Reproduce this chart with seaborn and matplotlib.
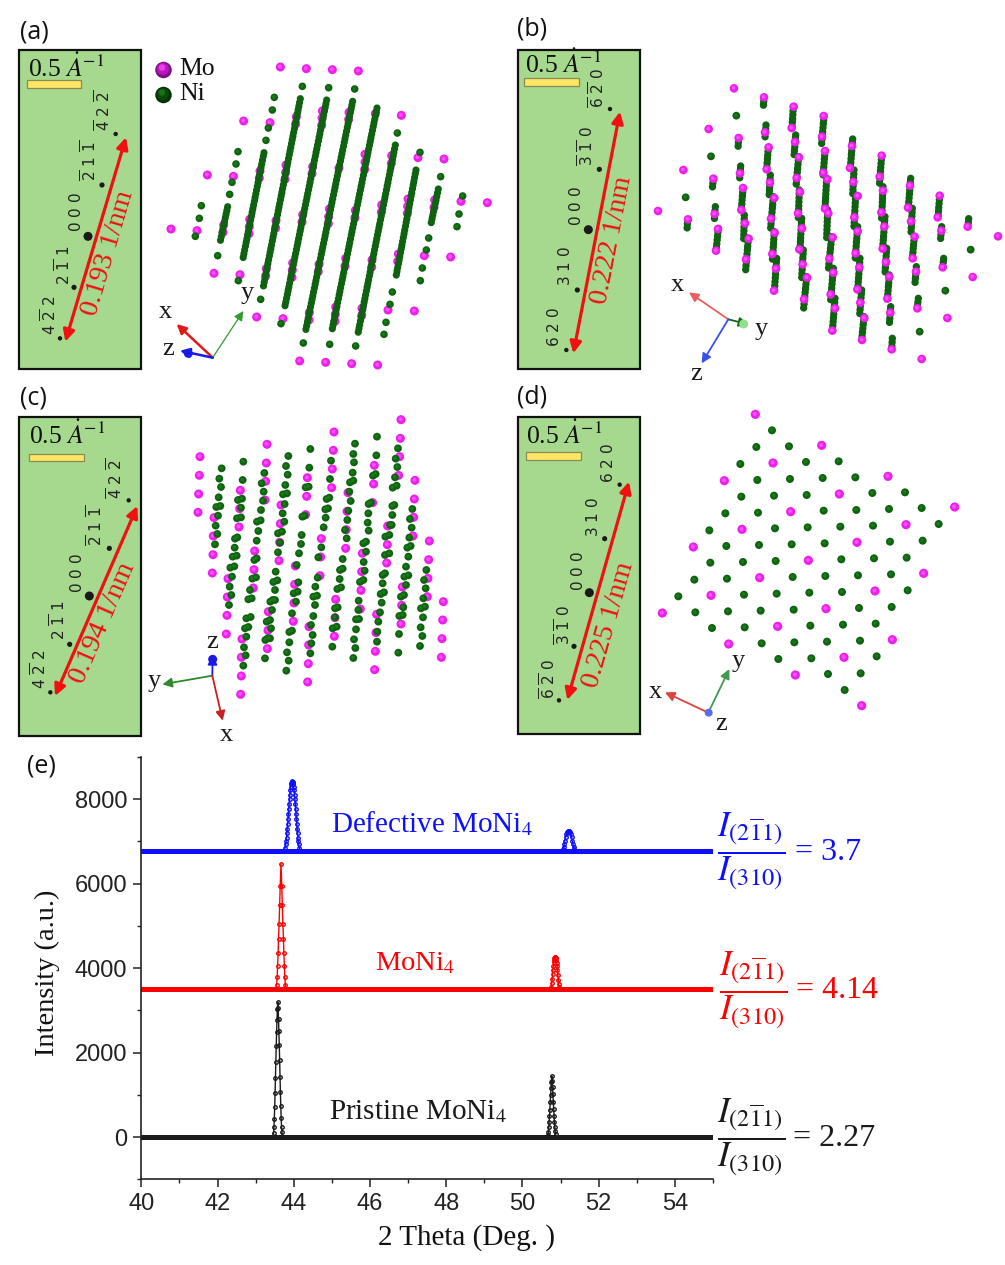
import matplotlib
matplotlib.use("Agg")
import matplotlib.pyplot as plt
from matplotlib.patches import Rectangle, FancyArrowPatch
from matplotlib.ticker import MultipleLocator
import pandas as pd
import seaborn as sns

# ---------- values ----------
# atom positions of panels a-d, in crop pixels (3x) relative to each panel's origin
origin_a = (0, 10); origin_b = (505, 10); origin_c = (0, 380); origin_d = (505, 380)

a_mo = [(841,171),(919,176),(997,179),(1075,183),(731,333),(810,338),(889,320),(887,342),(967,303),(966,324),(965,346),
        (1047,307),(1046,328),(1126,311),(1204,316),(622,495),(700,499),(780,483),(778,504),(858,465),(857,487),(855,508),
        (938,470),(936,491),(1017,474),(1095,433),(1095,456),(1094,478),(1175,437),(1174,460),(1254,443),(1332,447),
        (513,657),(591,662),(671,645),(669,667),(749,628),(748,650),(747,671),(828,632),(827,654),(908,614),(906,636),
        (988,597),(986,620),(985,641),(1066,601),(1065,623),(1145,585),(1144,606),(1224,567),(1223,589),(1222,610),
        (1304,570),(1302,592),(1383,574),(1462,578),(642,790),(720,794),(799,776),(797,798),(878,759),(877,780),(876,802),
        (957,763),(955,785),(1037,745),(1035,768),(1116,750),(1115,771),(1195,732),(1193,754),(1273,737),(1352,741),
        (770,921),(849,926),(928,908),(927,930),(1007,891),(1006,913),(1005,934),(1086,895),(1085,917),(1164,900),(1243,903),
        (899,1053),(977,1057),(1055,1061),(1133,1065)]
a_ni = [(604,587),(598,625),(586,679),(714,425),(708,462),(696,517),(689,553),(653,737),(823,262),(817,300),(805,354),
        (798,391),(715,812),(907,229),(782,868),(986,233),(843,941),(1064,237),(910,999),(989,1003),(1192,369),(1067,1008),
        (1260,427),(1177,846),(1170,883),(1158,937),(1152,973),(1322,500),(1286,684),(1279,720),(1267,774),(1261,812),
        (1388,558),(1377,612),(1371,650)]
a_chains = [((683,590),(660,698)),((792,428),(728,750)),((901,266),(790,830)),((980,270),(855,888)),((1058,274),(917,962)),
            ((1131,294),(995,966)),((1186,405),(1074,970)),((1248,480),(1188,800)),((1315,537),(1292,646))]

b_mo = [(687,235),(611,357),(535,480),(459,603),(777,262),(866,290),(860,354),(956,318),(951,380),(1041,408),(1035,474),
        (1130,437),(1124,500),(1215,527),(1209,593),(1304,557),(1298,622),(1388,650),(780,367),(701,384),(870,396),(791,412),
        (785,478),(705,490),(625,506),(960,423),(955,488),(882,442),(875,504),(1045,516),(967,508),(960,596),(795,518),(714,534),
        (709,600),(629,612),(549,628),(1134,542),(1129,607),(1058,558),(1048,622),(885,546),(879,610),(808,564),(798,626),
        (970,610),(720,640),(639,657),(633,722),(731,686),(723,748),(891,655),(883,718),(809,668),(802,732),(813,776),(807,842),
        (893,763),(906,803),(897,868),(983,682),(973,746),(985,788),(977,853),(990,895),(982,962),(1058,664),(1052,730),
        (1063,772),(1057,838),(1066,878),(1078,924),(1071,990),(1138,650),(1133,716),(1143,757),(1153,800),(1147,866),
        (1156,908),(1160,1018),(1218,634),(1229,680),(1223,745),(1233,785),(1237,895),(1309,662),(1313,772),
        (1479,679),(1403,801),(1327,924),(1250,1047)]
b_ni = [(694,317),(618,439),(542,562),(1397,719),(1321,842),(1244,965)]
b_chains = [((777,262),(775,290)),((865,290),(861,355)),((957,318),(949,410)),((1043,387),(1036,474)),((1130,437),(1123,527)),
            ((1217,505),(1210,593)),((1304,557),(1299,622)),((1391,626),(1389,650)),((783,345),(780,384)),((701,385),(699,415)),
            ((872,375),(867,440)),((790,412),(785,478)),((707,468),(704,505)),((625,507),(622,535)),((960,424),(954,500)),
            ((881,440),(873,530)),((1047,480),(1043,555)),((965,505),(960,595)),((796,495),(792,565)),((714,535),(709,600)),
            ((631,590),(628,630)),((548,630),(546,660)),((1134,530),(1130,625)),((1052,555),(1047,650)),((883,540),(880,625)),
            ((805,560),(797,655)),((968,600),(965,685)),((718,615),(716,690)),((640,655),(633,725)),((730,685),(722,780)),
            ((890,625),(885,720)),((808,665),(802,755)),((815,745),(808,845)),((895,720),(890,805)),((905,800),(895,905)),
            ((980,680),(970,780)),((985,775),(977,870)),((990,865),(982,965)),((1058,650),(1050,755)),((1065,745),(1058,840)),
            ((1070,840),(1064,915)),((1077,920),(1070,990)),((1140,620),(1133,715)),((1145,715),(1140,790)),((1153,795),(1147,870)),
            ((1157,890),(1153,945)),((1162,985),(1160,1020)),((1222,595),(1218,670)),((1228,680),(1222,745)),((1234,770),(1230,820)),
            ((1240,865),(1236,900)),((1310,650),(1306,695)),((1316,745),(1313,775))]

c_mo = [(600,230),(598,286),(596,342),(594,397),(642,413),(640,468),(639,524),(637,579),(721,331),(719,386),(717,441),
        (684,596),(682,651),(681,706),(679,762),(801,193),(799,249),(797,304),(795,360),(843,375),(841,431),(839,487),(837,542),
        (764,513),(762,569),(760,624),(726,777),(724,832),(724,888),(722,943),(805,695),(804,751),(802,806),(886,558),(884,613),
        (882,669),(880,724),(927,740),(926,795),(925,851),(923,906),(922,293),(920,349),(917,404),(1002,156),(1000,211),(997,267),
        (995,323),(1044,338),(1041,394),(1039,449),(1037,505),(964,476),(962,531),(960,587),(1007,658),(1005,713),(1003,769),
        (1087,520),(1085,575),(1083,631),(1081,687),(1130,703),(1128,758),(1126,814),(1124,869),(1203,119),(1201,175),(1199,230),
        (1196,286),(1123,256),(1121,312),(1118,368),(1245,301),(1243,357),(1241,412),(1239,468),(1163,438),(1162,494),(1160,549),
        (1288,483),(1286,539),(1284,595),(1282,650),(1207,621),(1205,676),(1203,732),(1330,665),(1328,720),(1326,776),(1324,832)]
c_ni = [(665,265),(658,296),(663,321),(656,352),(661,378),(649,381),(654,407),(647,437),(652,462),(645,493),
        (730,245),(728,300),(726,356),(714,360),(723,383),(711,415),(723,412),(705,476),(712,472),(704,503),(698,530),(710,527),
        (691,563),(703,559),(696,590),(689,620),(694,645),(687,675),
        (793,279),(791,335),(785,310),(789,362),(783,390),(771,425),(782,421),(775,453),(770,482),(763,540),(770,535),(757,596),
        (768,592),(750,630),(745,658),(755,655),(739,715),(752,711),(735,745),(745,741),(739,770),(732,802),(737,826),(730,857),
        (865,228),(858,258),(863,284),(856,315),(861,340),(849,343),(854,372),(848,400),(853,425),(846,455),(834,460),(840,488),
        (834,517),(827,575),(820,606),(832,601),(825,630),(818,660),(811,665),(825,660),(816,690),(810,720),(800,725),(813,745),
        (803,775),(796,780),(810,775),(795,835),
        (931,207),(928,263),(926,320),(917,322),(907,410),(914,407),(905,465),(903,492),(897,520),(890,555),(881,640),(893,635),
        (895,607),(888,665),(876,700),(868,756),(876,752),(868,787),(861,817),(866,842),(859,872),
        (993,242),(990,297),(988,353),(980,357),(976,388),(984,385),(977,413),(971,442),(964,502),(955,532),(953,593),(946,620),
        (940,650),(951,647),(945,675),(940,708),(933,735),(938,765),(934,790),(931,820),
        (1065,191),(1060,222),(1062,247),(1058,278),(1050,307),(1060,302),(1048,335),(1052,363),(1045,392),(1042,420),(1035,450),
        (1040,475),(1028,537),(1020,570),(1028,566),(1019,597),(1012,627),(1023,622),(1005,685),(1013,682),(1005,712),(998,745),
        (1010,740),(997,800),
        (1131,170),(1129,226),(1127,282),(1119,287),(1113,368),(1106,372),(1105,400),(1103,428),(1106,452),(1098,485),(1090,490),
        (1098,515),(1091,546),(1094,572),(1080,606),(1090,600),(1076,662),(1075,690),(1068,718),(1077,717),(1068,748),(1062,778),
        (1066,804),(1060,834),
        (1194,205),(1187,236),(1192,261),(1185,292),(1190,317),(1178,323),(1177,378),(1183,375),(1177,405),(1170,435),(1175,435),
        (1168,465),(1156,470),(1168,520),(1155,525),(1155,580),(1148,585),(1148,610),(1142,642),(1152,637),(1145,668),(1140,697),
        (1135,725),(1132,755),(1131,785),
        (1237,387),(1230,417),(1235,443),(1228,473),(1232,498),(1222,503),(1225,530),(1218,560),(1213,590),(1225,586),(1218,615),
        (1212,645),(1203,650),(1210,682),(1198,708),(1208,705),(1197,762),(1195,818),
        (1279,570),(1272,600),(1277,625),(1270,655),(1275,680),(1263,685),(1269,712),(1262,742),(1267,768),(1260,798)]

d_mo = [(751,103),(950,196),(804,249),(658,302),(1149,289),(1003,342),(857,395),(711,448),(565,501),(1349,381),(1203,434),
        (1056,487),(910,541),(764,593),(618,646),(472,699),(1256,580),(1110,633),(963,686),(818,739),(671,792),(1162,779),
        (1017,832),(871,885),(1070,977)]
d_ni = [(801,151),(754,201),(852,199),(706,252),(903,246),(1001,244),(757,300),(855,297),(953,294),(1051,292),(709,350),
        (807,347),(905,345),(1102,339),(1200,337),(661,400),(759,398),(956,392),(1054,390),(1152,387),(1250,384),(613,451),
        (810,445),(908,442),(1006,440),(1104,437),(1301,432),(664,498),(762,495),(860,493),(959,490),(1155,485),(1253,482),
        (616,548),(714,546),(812,543),(1009,538),(1107,535),(1205,533),(568,599),(666,596),(863,591),(961,588),(1059,586),
        (1158,583),(520,649),(717,644),(815,641),(913,638),(1011,636),(1208,631),(571,697),(669,694),(767,692),(866,689),
        (1062,684),(1160,681),(621,744),(719,742),(916,737),(1014,734),(1112,731),(770,790),(868,787),(966,785),(1065,782),
        (820,837),(919,835),(1115,829),(969,882),(1067,880),(1019,930)]

# diffraction spots and index labels
a_spots = [(264,679),(306,525),(347,372),(222,832),(180,985)]
b_spots = [(250,659),(283,478),(315,297),(217,840),(184,1020)]
c_spots = [(268,648),(328,505),(386,361),(209,793),(151,937)]
d_spots = [(253,638),(299,476),(344,314),(207,799),(162,961)]
hkl_ac = [r"$0\ 0\ 0$", r"$\overline{2}\ 1\ \overline{1}$", r"$\overline{4}\ 2\ \overline{2}$", r"$2\ \overline{1}\ 1$", r"$4\ \overline{2}\ 2$"]
hkl_b = [r"$0\ 0\ 0$", r"$\overline{3}\ \overline{1}\ 0$", r"$\overline{6}\ \overline{2}\ 0$", r"$3\ 1\ 0$", r"$6\ 2\ 0$"]
hkl_d = [r"$0\ 0\ 0$", r"$3\ 1\ 0$", r"$6\ 2\ 0$", r"$\overline{3}\ \overline{1}\ 0$", r"$\overline{6}\ \overline{2}\ 0$"]
a_hkl_pos = [(227,607),(268,452),(310,302),(190,765),(148,915)]
b_hkl_pos = [(212,587),(245,408),(277,235),(180,768),(148,950)]
c_hkl_pos = [(230,580),(288,437),(347,295),(175,722),(118,868)]
d_hkl_pos = [(218,572),(264,410),(310,250),(175,735),(130,897)]
d_values = ["0.193 1/nm", "0.222 1/nm", "0.194 1/nm", "0.225 1/nm"]

# XRD curves of panel (e): baselines and peaks
two_theta_range = [40, 55]
pristine_level = 0; moni4_level = 3500; defective_level = 6770
black1_x = [43.46,43.47,43.48,43.49,43.50,43.51,43.52,43.53,43.54,43.55,43.56,43.57,43.58,43.59,43.60,43.61,43.62,43.63,43.64,43.65,43.66,43.67,43.68,43.69,43.70]
black1_y = [0,100,230,430,720,1040,1400,1780,2150,2480,2780,3030,3200,3060,2800,2500,2180,1820,1430,1060,740,440,240,110,0]
black2_x = [50.66,50.67,50.68,50.69,50.70,50.71,50.72,50.73,50.74,50.75,50.76,50.77,50.78,50.79,50.80,50.81,50.82,50.83,50.84,50.85,50.86,50.87,50.88]
black2_y = [0,60,130,230,350,490,650,820,1000,1170,1310,1445,1320,1180,1010,830,660,500,360,240,140,70,0]
red1_x = [43.54,43.55,43.565,43.575,43.59,43.60,43.615,43.63,43.645,43.665,43.685,43.70,43.715,43.73,43.74,43.755,43.765,43.78,43.79]
red1_y = [3500,3600,3780,4050,4350,4700,5050,5500,5950,6470,5950,5500,5050,4700,4350,4050,3780,3600,3500]
red2_x = [50.74,50.76,50.77,50.78,50.79,50.80,50.81,50.82,50.83,50.84,50.85,50.86,50.87,50.88,50.89,50.90,50.91,50.92,50.93,50.94,50.95,50.96,50.98]
red2_y = [3500,3560,3640,3740,3850,3960,4060,4140,4200,4240,4255,4258,4250,4230,4190,4130,4050,3950,3840,3730,3630,3560,3500]
blue1_x = [43.75,43.77,43.79,43.80,43.81,43.82,43.83,43.84,43.85,43.86,43.87,43.88,43.89,43.90,43.91,43.92,43.93,43.94,43.95,43.96,43.97,43.98,43.99,44.00,44.01,44.02,44.03,44.04,44.05,44.06,44.07,44.08,44.09,44.10,44.11,44.12,44.13,44.15,44.17]
blue1_y = [6770,6850,6930,7000,7090,7200,7300,7420,7540,7660,7780,7890,8000,8110,8210,8290,8350,8395,8415,8420,8415,8395,8350,8290,8210,8110,8000,7890,7780,7660,7540,7420,7300,7200,7090,7000,6930,6850,6770]
blue2_x = [51.04,51.06,51.08,51.10,51.11,51.13,51.15,51.17,51.19,51.21,51.23,51.25,51.27,51.29,51.31,51.32,51.34,51.36,51.38]
blue2_y = [6770,6810,6870,6950,7010,7100,7170,7220,7245,7250,7245,7220,7170,7100,7010,6950,6870,6810,6770]
yticks_e = [0, 2000, 4000, 6000, 8000]
xticks_e = [40, 42, 44, 46, 48, 50, 52, 54]

# ---------- style ----------
sns.set_theme(style="ticks")
plt.rcParams["font.family"] = ["Liberation Serif", "DejaVu Sans"]
plt.rcParams["mathtext.fontset"] = "stix"

W, H = 1005, 1265
fig = plt.figure(figsize=(W/100, H/100), dpi=100, facecolor="white")
MO = "#ec1fec"; NI = "#0f620f"; GREEN_BG = "#a6d98e"; YEL = "#ffe566"
PT = 0.72

# ---------- panel (e) ----------
L, R, T, B = 141.3, 713.0, 757.0, 1179.3
ax = fig.add_axes([L/W, 1-B/H, (R-L)/W, (B-T)/H])
ax.patch.set_alpha(0)
curves = [
    ("k", black1_x, black1_y, black2_x, black2_y, pristine_level),
    ("#ff0000", red1_x, red1_y, red2_x, red2_y, moni4_level),
    ("#0f0fff", blue1_x, blue1_y, blue2_x, blue2_y, defective_level),
]
for col, x1, y1, x2, y2, lev in curves:
    sns.lineplot(x=two_theta_range, y=[lev, lev], color=col, lw=3.6, estimator=None, sort=False, ax=ax, legend=False)
    for xx, yy in ((x1, y1), (x2, y2)):
        sns.lineplot(x=xx, y=yy, color=col, lw=1.0, estimator=None, sort=False, ax=ax, legend=False,
                     marker="o", markersize=2.5, markerfacecolor="none", markeredgecolor=col, markeredgewidth=1.0)
ax.set_xlim(40, 55); ax.set_ylim(-1000, 9000)
sns.despine(ax=ax)
ax.set_xticks(xticks_e); ax.set_yticks(yticks_e)
ax.xaxis.set_minor_locator(MultipleLocator(1)); ax.yaxis.set_minor_locator(MultipleLocator(1000))
ax.tick_params(which="major", length=6, width=1.1, color="#222222", labelsize=17, pad=4, labelcolor="#222222")
ax.tick_params(which="minor", length=3, width=1.0, color="#222222")
for lab in ax.get_xticklabels() + ax.get_yticklabels():
    lab.set_fontfamily("Liberation Sans")
for s in ("left", "bottom"):
    ax.spines[s].set_linewidth(1.2); ax.spines[s].set_color("#222222")
ax.set_xlabel(""); ax.set_ylabel("")
ax.grid(False)

# ---------- overlay in picture pixels ----------
ov = fig.add_axes([0, 0, 1, 1], zorder=5)
ov.set_xlim(0, W); ov.set_ylim(H, 0); ov.axis("off"); ov.patch.set_alpha(0)

def frame(points, org):
    return pd.DataFrame({"x": [org[0]+p[0]/3 for p in points], "y": [org[1]+p[1]/3 for p in points]})

def P(p, org):
    return (org[0]+p[0]/3, org[1]+p[1]/3)

def atoms(points, org, color, d, z):
    sns.scatterplot(data=frame(points, org), x="x", y="y", s=(d*PT)**2, color=color, edgecolor="none",
                    linewidth=0, ax=ov, legend=False, zorder=z)
    sns.scatterplot(data=pd.DataFrame({"x": [org[0]+p[0]/3-0.5 for p in points], "y": [org[1]+p[1]/3-0.5 for p in points]}),
                    x="x", y="y", s=(d*0.45*PT)**2, color=("#f650f6" if color == MO else "#187a18"), edgecolor="none",
                    linewidth=0, ax=ov, legend=False, zorder=z)

def chains(segments, org, d, z):
    rows = []
    for i, (a, b) in enumerate(segments):
        for p in (a, b):
            rows.append({"chain": i, "x": org[0]+p[0]/3, "y": org[1]+p[1]/3})
    sns.lineplot(data=pd.DataFrame(rows), x="x", y="y", units="chain", estimator=None, sort=False, color=NI,
                 lw=d*PT, linestyle=(0, (0.01, 0.52)), dash_capstyle="round", ax=ov, legend=False, zorder=z)

def panel(org, spots, hkl, hkl_pos, value, arrow, val_c, val_rot, sb_text, sb_rect, box):
    ov.add_patch(Rectangle((box[0], box[1]), box[2]-box[0], box[3]-box[1], fc=GREEN_BG, ec="#111111", lw=1.6, zorder=1))
    sizes = [9.0, 5.2, 4.4, 5.2, 4.4]
    for pt, sz in zip(spots, sizes):
        sns.scatterplot(data=frame([pt], org), x="x", y="y", s=(sz*PT)**2, color="k", edgecolor="none", linewidth=0,
                        ax=ov, legend=False, zorder=3)
    for lab, pos in zip(hkl, hkl_pos):
        q = P(pos, org)
        ov.text(q[0], q[1], lab, rotation=90, ha="center", va="center", fontsize=11, math_fontfamily="dejavusans",
                color="#222222", zorder=3)
    ov.add_patch(FancyArrowPatch(P(arrow[0], org), P(arrow[1], org), arrowstyle="<|-|>", mutation_scale=17, lw=2.3,
                                 color="#f01010", shrinkA=0, shrinkB=0, zorder=4))
    q = P(val_c, org)
    ov.text(q[0], q[1], value, rotation=val_rot, rotation_mode="anchor", ha="center", va="center", fontsize=20.5,
            color="#f01010", zorder=4)
    q = P(sb_text, org)
    ov.text(q[0], q[1], r"0.5 $\dot{A}^{-1}$", fontsize=18.5, ha="left", va="baseline", color="#111111", zorder=4)
    r0, r1 = P((sb_rect[0], sb_rect[1]), org), P((sb_rect[2], sb_rect[3]), org)
    ov.add_patch(Rectangle(r0, r1[0]-r0[0], r1[1]-r0[1], fc=YEL, ec="#8a8a55", lw=0.9, zorder=4))

panel(origin_a, a_spots, hkl_ac, a_hkl_pos, d_values[0], ((378,382),(196,995)), (325,730), 73.5,
      (85,200), (80,211,242,233), (19,50,141,369))
panel(origin_b, b_spots, hkl_b, b_hkl_pos, d_values[1], ((345,305),(205,1030)), (322,690), 79,
      (60,188), (58,205,221,228), (518,50,640,369))
panel(origin_c, c_spots, hkl_ac, c_hkl_pos, d_values[2], ((412,378),(165,948)), (308,728), 66.5,
      (88,193), (88,221,251,243), (19,417,141,736))
panel(origin_d, d_spots, hkl_d, d_hkl_pos, d_values[3], ((372,305),(187,960)), (312,735), 74,
      (64,193), (64,217,227,239), (518,417,640,734))

# atoms
atoms(a_mo, origin_a, MO, 9.0, 2)
chains(a_chains, origin_a, 7.2, 3)
atoms(a_ni, origin_a, NI, 7.6, 3)
chains(b_chains, origin_b, 7.4, 2)
atoms(b_ni, origin_b, NI, 7.8, 2)
atoms(b_mo, origin_b, MO, 8.6, 3)
atoms(c_mo, origin_c, MO, 9.0, 2)
atoms(c_ni, origin_c, NI, 7.8, 3)
atoms(d_mo, origin_d, MO, 9.2, 2)
atoms(d_ni, origin_d, NI, 8.0, 3)

# legend of panel (a)
mo_y, ni_y = 70, 95
for yy, dark, mid, light, name in ((mo_y, "#7d0f86", "#b818bd", "#ea40ea", "Mo"), (ni_y, "#053305", "#0a4a0a", "#1a701a", "Ni")):
    sns.scatterplot(x=[163.5], y=[yy], s=(16.5*PT)**2, color=dark, edgecolor="none", linewidth=0, ax=ov, legend=False, zorder=4)
    sns.scatterplot(x=[163], y=[yy-1], s=(12*PT)**2, color=mid, edgecolor="none", linewidth=0, ax=ov, legend=False, zorder=4)
    sns.scatterplot(x=[162], y=[yy-2.5], s=(6.5*PT)**2, color=light, edgecolor="none", linewidth=0, ax=ov, legend=False, zorder=4)
    ov.text(179, yy-1, name, fontsize=18.5, ha="left", va="center", color="#111111", zorder=4)

# coordinate triads
def triad(org, o, tips, cols, lws, labels):
    for tip, col, lw, (lab, lp) in zip(tips, cols, lws, labels):
        ov.add_patch(FancyArrowPatch(P(o, org), P(tip, org), arrowstyle="-|>", mutation_scale=14, lw=lw, color=col,
                                     shrinkA=0, shrinkB=0, zorder=4))
        q = P(lp, org)
        ov.text(q[0], q[1], lab, fontsize=19, ha="center", va="center", color="k", zorder=4)

triad(origin_a, (638,1043), [(530,942),(730,903),(540,1022)], ["#e01818","#2f9a2f","#1a1ae6"], [1.8,0.9,1.8],
      [("x",(497,905)),("y",(742,848)),("z",(505,1018))])
triad(origin_b, (670,928), [(552,847),(730,943),(590,1060)], ["#e85f5f","#116611","#3a50e8"], [1.3,1.3,1.3],
      [("x",(518,824)),("y",(768,956)),("z",(575,1092))])
triad(origin_c, (637,887), [(638,825),(487,913),(668,1022)], ["#1a1ae6","#2f8a2f","#c82020"], [1.3,1.3,1.3],
      [("z",(637,786)),("y",(462,904)),("x",(680,1064))])
triad(origin_d, (610,998), [(480,937),(673,867)], ["#e04040","#3f9a4f"], [1.3,1.3],
      [("x",(452,936)),("y",(700,844))])
sns.scatterplot(data=frame([(611,998)], origin_d), x="x", y="y", s=(8*PT)**2, color="#5a6ee8", edgecolor="none", linewidth=0,
                ax=ov, legend=False, zorder=4)
sns.scatterplot(data=frame([(716,942)], origin_b), x="x", y="y", s=(9*PT)**2, color="#8fe08f", edgecolor="none", linewidth=0,
                ax=ov, legend=False, zorder=4)
sns.scatterplot(data=frame([(638,838)], origin_c), x="x", y="y", s=(9*PT)**2, color="#1a1ae6", edgecolor="none", linewidth=0,
                ax=ov, legend=False, zorder=4)
sns.scatterplot(data=frame([(565,1030)], origin_a), x="x", y="y", s=(9*PT)**2, color="#1a1ae6", edgecolor="none", linewidth=0,
                ax=ov, legend=False, zorder=4)
q = P((650,1033), origin_d); ov.text(q[0], q[1], "z", fontsize=19, ha="center", va="center", color="k", zorder=4)

# panel letters
for s, pos in (("(a)", (34,32)), ("(b)", (532,29)), ("(c)", (33,398)), ("(d)", (532,397)), ("(e)", (41,766))):
    ov.text(pos[0], pos[1], s, fontsize=18, family="Open Sans", ha="center", va="center", color="#111111", zorder=6)

# texts of panel (e)
ov.text(466, 1238, "2 Theta (Deg. )", fontsize=21, ha="center", va="center", color="#111111")
ov.text(47, 973, "Intensity (a.u.)", fontsize=20.5, rotation=90, ha="center", va="center", color="#111111")
ov.text(331, 824, r"Defective MoNi$_{4}$", fontsize=21, ha="left", va="center", color="#0f0fff")
ov.text(375, 964, r"MoNi$_{4}$", fontsize=20.5, ha="left", va="center", color="#ff0000")
ov.text(329, 1112, r"Pristine MoNi$_{4}$", fontsize=21, ha="left", va="center", color="k")
frac = r"$\dfrac{I_{(2\overline{1}1)}}{I_{(310)}}$"
for (x0, xv, y0, col, val) in ((751.5, 795, 851, "#0f0fff", "3.7"), (753.5, 796, 990, "#ff0000", "4.14"), (751.5, 793, 1137, "k", "2.27")):
    ov.text(x0, y0, frac, fontsize=25, ha="center", va="center", color=col)
    ov.text(xv, y0+1, "= " + val, fontsize=23, ha="left", va="center", color=col)

ov.set_xlim(0, W); ov.set_ylim(H, 0)
ov.set_xlabel(""); ov.set_ylabel("")
fig.savefig("out.png", dpi=100)
